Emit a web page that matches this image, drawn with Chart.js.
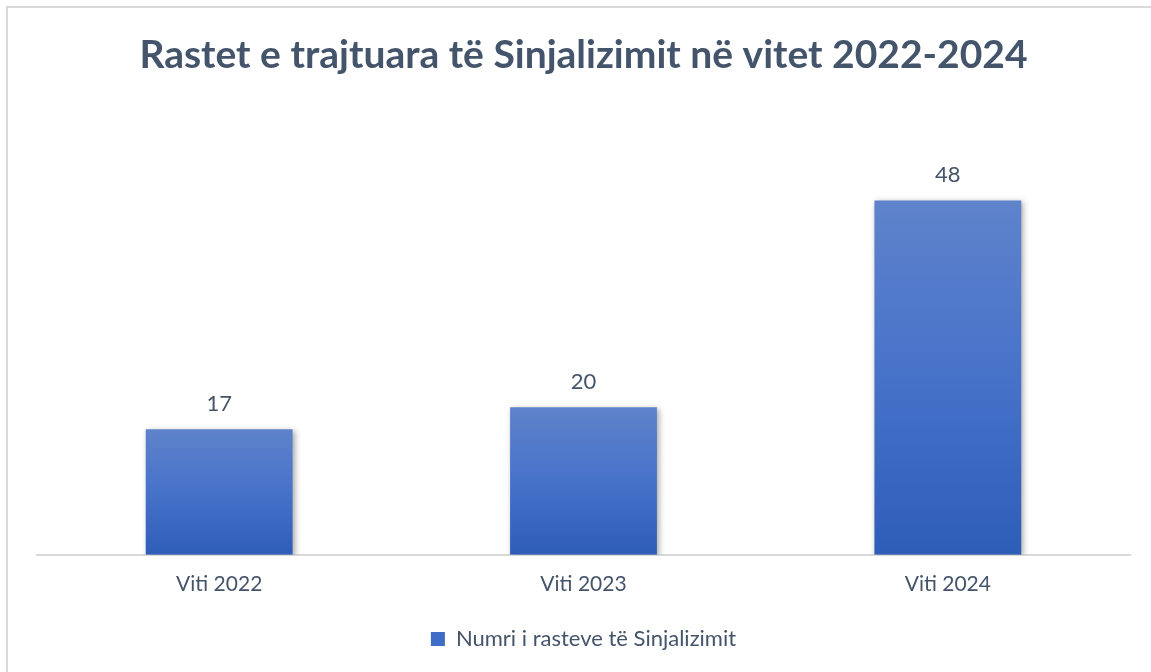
<!DOCTYPE html>
<html>
<head>
<meta charset="utf-8">
<script src="https://cdn.jsdelivr.net/npm/chart.js@4/dist/chart.umd.min.js"></script>
<style>
  html, body { margin: 0; padding: 0; background: #ffffff; }
  #wrap { width: 1151px; height: 672px; position: relative; }
</style>
</head>
<body>
<div id="wrap"><canvas id="c" width="1151" height="672"></canvas></div>
<script>
const categories = ['Viti 2022', 'Viti 2023', 'Viti 2024'];
const values = [17, 20, 48];
const seriesName = 'Numri i rasteve të Sinjalizimit';
const chartTitle = 'Rastet e trajtuara të Sinjalizimit në vitet 2022-2024';
const yMax = 60;

const TEXT = '#44546A';
const FONT = 'Lato';

function barGradient(ctx) {
  const chart = ctx.chart;
  const y = chart.scales && chart.scales.y;
  if (!y || ctx.dataIndex === undefined) return '#4472C4';
  const top = y.getPixelForValue(values[ctx.dataIndex]);
  const base = y.getPixelForValue(0);
  if (!isFinite(top) || !isFinite(base) || top === base) return '#4472C4';
  const g = chart.ctx.createLinearGradient(0, top, 0, base);
  g.addColorStop(0, '#5F83CB');
  g.addColorStop(0.5, '#4672C9');
  g.addColorStop(1, '#2E5DB8');
  return g;
}

const framePlugin = {
  id: 'frame',
  beforeDraw(chart) {
    const c = chart.ctx;
    c.save();
    c.fillStyle = '#ffffff';
    c.fillRect(0, 0, chart.width, chart.height);
    c.strokeStyle = '#D9D9D9';
    c.lineWidth = 2;
    c.strokeRect(7, 7, chart.width + 20, chart.height + 20);
    c.restore();
  }
};

const shadowPlugin = {
  id: 'barShadow',
  beforeDatasetDraw(chart) {
    const c = chart.ctx;
    c.save();
    c.shadowColor = 'rgba(0,0,0,0.35)';
    c.shadowBlur = 6;
    c.shadowOffsetX = 2;
    c.shadowOffsetY = 2;
  },
  afterDatasetDraw(chart) {
    chart.ctx.restore();
  }
};

const labelPlugin = {
  id: 'valueLabels',
  afterDatasetsDraw(chart) {
    const c = chart.ctx;
    const meta = chart.getDatasetMeta(0);
    c.save();
    c.font = '22px ' + FONT;
    c.fillStyle = TEXT;
    c.textAlign = 'center';
    c.textBaseline = 'middle';
    meta.data.forEach((el, i) => {
      c.fillText(String(values[i]), el.x, el.y - 25);
    });
    c.restore();
  }
};

new Chart(document.getElementById('c'), {
  type: 'bar',
  data: {
    labels: categories,
    datasets: [{
      label: seriesName,
      data: values,
      backgroundColor: barGradient,
      borderWidth: 0,
      categoryPercentage: 1.0,
      barPercentage: 0.403
    }]
  },
  options: {
    responsive: false,
    animation: false,
    devicePixelRatio: 1,
    layout: { padding: { left: 37, right: 21, top: 0, bottom: 12 } },
    scales: {
      x: {
        grid: { display: false, drawTicks: false },
        border: { display: true, color: '#D9D9D9', width: 2 },
        ticks: { color: TEXT, font: { family: FONT, size: 21 }, padding: 17 }
      },
      y: {
        display: false,
        min: 0,
        max: yMax
      }
    },
    plugins: {
      title: {
        display: true,
        text: chartTitle,
        color: TEXT,
        font: { family: FONT, size: 39, weight: 'bold' },
        padding: { top: 32, bottom: 33 }
      },
      legend: {
        display: true,
        position: 'bottom',
        labels: {
          color: TEXT,
          font: { family: FONT, size: 22 },
          boxWidth: 14,
          boxHeight: 14,
          padding: 14,
          generateLabels: () => [{
            text: seriesName,
            fillStyle: '#3F6CC6',
            strokeStyle: '#3F6CC6',
            lineWidth: 0,
            fontColor: TEXT,
            datasetIndex: 0
          }]
        }
      },
      tooltip: { enabled: false }
    }
  },
  plugins: [framePlugin, shadowPlugin, labelPlugin]
});
</script>
</body>
</html>
